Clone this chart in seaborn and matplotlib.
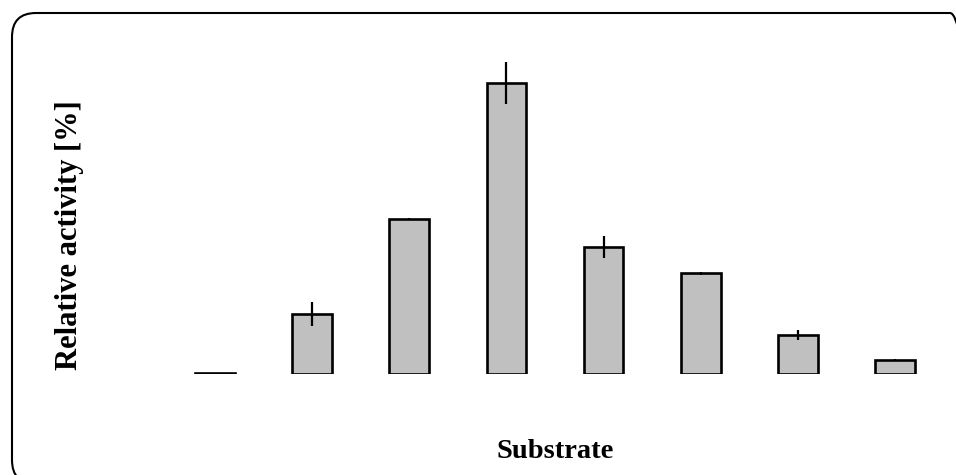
import matplotlib
matplotlib.use("Agg")
import matplotlib.pyplot as plt
from matplotlib.patches import FancyBboxPatch
from matplotlib.transforms import IdentityTransform
import seaborn as sns
import pandas as pd

# data (percent of the most active substrate)
substrates = ["S1", "S2", "S3", "S4", "S5", "S6", "S7", "S8"]
activity = [0.5, 20.6, 53.3, 100.0, 43.6, 34.7, 13.4, 4.8]
errors = [0.0, 4.0, 0.3, 7.3, 3.8, 0.5, 1.7, 0.4]

df = pd.DataFrame({"Substrate": substrates, "Activity": activity})

sns.set_style("white")
plt.rcParams["font.family"] = ["Liberation Serif", "DejaVu Serif"]
plt.rcParams["text.color"] = "black"
plt.rcParams["axes.labelcolor"] = "black"

W, H = 956, 475
fig = plt.figure(figsize=(W / 100, H / 100), dpi=100)
# axes box in pixels: x 166.5..943.5, baseline at y=374, top at y=54
ax = fig.add_axes([166.5 / W, (H - 374) / H, 777 / W, 320 / H])

sns.barplot(data=df, x="Substrate", y="Activity", color="#c0c0c0",
            edgecolor="black", linewidth=1.9, width=0.41, saturation=1,
            errorbar=None, ax=ax)
ax.errorbar(range(len(substrates)), activity, yerr=errors, fmt="none",
            ecolor="black", elinewidth=1.6, capsize=0)

ax.set_xlim(-0.5, len(substrates) - 0.5)
ax.set_ylim(0, 110)
ax.set_xticks([])
ax.set_yticks([])
for s in ax.spines.values():
    s.set_visible(False)

ax.set_xlabel("Substrate", fontsize=20.5, fontweight="bold")
ax.set_ylabel("Relative activity [%]", fontsize=22, fontweight="bold")
ax.xaxis.label.set_va("center")
ax.yaxis.label.set_va("center")
ax.xaxis.set_label_coords(0.5, -78 / 320)
ax.yaxis.set_label_coords((70 - 166.5) / 777, (374 - 235) / 320)

# rounded frame round the whole picture, cut off at right and bottom
frame = FancyBboxPatch((12, -9), 962, 471, boxstyle="round,pad=0,rounding_size=24",
                       transform=IdentityTransform(), facecolor="none",
                       edgecolor="black", linewidth=1.5)
fig.add_artist(frame)

fig.savefig("out.png", dpi=100)
